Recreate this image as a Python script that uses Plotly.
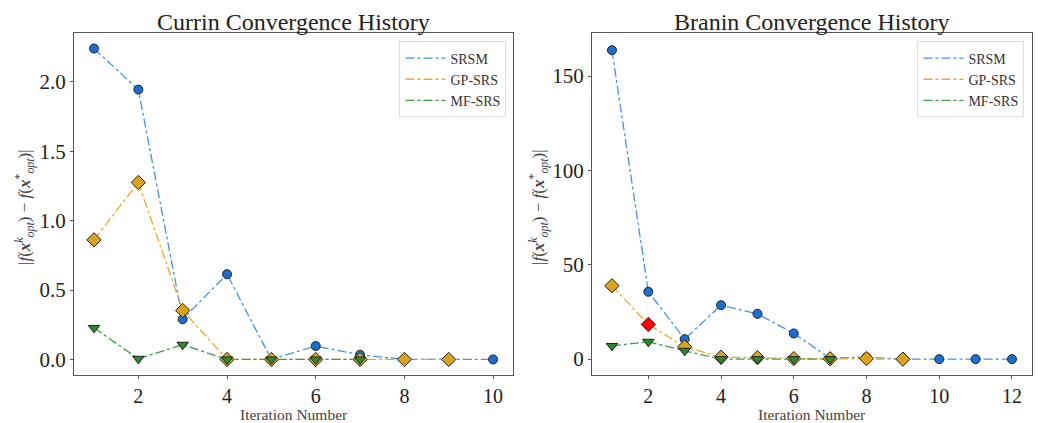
import plotly.graph_objects as go

# ---------------- data ----------------
currin_srsm_x = [1, 2, 3, 4, 5, 6, 7, 8, 9, 10]
currin_srsm_y = [2.24, 1.944, 0.29, 0.614, 0.0, 0.097, 0.034, 0.0, 0.0, 0.0]
currin_gp_x = [1, 2, 3, 4, 5, 6, 7, 8, 9]
currin_gp_y = [0.862, 1.275, 0.353, 0.0, 0.0, 0.0, 0.0, 0.0, 0.0]
currin_mf_x = [1, 2, 3, 4, 5, 6, 7]
currin_mf_y = [0.227, 0.005, 0.106, 0.0, 0.0, 0.0, 0.0]

branin_srsm_x = [1, 2, 3, 4, 5, 6, 7, 8, 9, 10, 11, 12]
branin_srsm_y = [163.7, 35.7, 10.6, 28.6, 24.0, 13.6, 0.5, 1.0, 0.0, 0.0, 0.0, 0.0]
branin_gp_x = [1, 2, 3, 4, 5, 6, 7, 8, 9]
branin_gp_y = [38.9, 18.4, 6.5, 1.0, 0.8, 0.3, 0.2, 0.3, 0.0]
branin_mf_x = [1, 2, 3, 4, 5, 6, 7]
branin_mf_y = [7.0, 9.2, 4.4, 0.0, 0.0, 0.0, 0.0]
branin_gp_highlight = 1  # index of red-highlighted point

series_names = ["SRSM", "GP-SRS", "MF-SRS"]
titles = ["Currin Convergence History", "Branin Convergence History"]
x_title = "Iteration Number"
y_title = ("|<i>f</i>(<b><i>x</i></b><sup><i>k</i></sup><sub><i>opt</i></sub>) "
           "\u2212 <i>f</i>(<b><i>x</i></b><sup>*</sup><sub><i>opt</i></sub>)|")

# ---------------- styles ----------------
FONT = "Liberation Serif"
C_BLUE, L_BLUE = "#1b6fce", "#4592e6"
C_GOLD, L_GOLD = "#d9a21f", "#e9ac2c"
C_GREEN, L_GREEN = "#2b8a2b", "#3f9e45"

D1 = [0.0712, 0.4933]
D2 = [0.5692, 0.9923]
DY = [0.1135, 0.922]

fig = go.Figure()


def add_series(xs, ys, name, mcol, lcol, symbol, size, xa, ya, legend, mcolors=None):
    fig.add_trace(go.Scatter(
        x=xs, y=ys, mode="lines+markers", name=name,
        line=dict(color=lcol, width=1.3, dash="dashdot"),
        marker=dict(symbol=symbol, size=size, color=mcolors if mcolors else mcol,
                    line=dict(color="#222222", width=1)),
        xaxis=xa, yaxis=ya, showlegend=False,
    ))
    # legend entry: line sample only (as in the reference)
    fig.add_trace(go.Scatter(
        x=[None], y=[None], mode="lines", name=name,
        line=dict(color=lcol, width=1.3, dash="dashdot"),
        xaxis=xa, yaxis=ya, legend=legend, showlegend=True, hoverinfo="skip",
    ))


add_series(currin_srsm_x, currin_srsm_y, series_names[0], C_BLUE, L_BLUE, "circle", 9, "x", "y", "legend")
add_series(currin_gp_x, currin_gp_y, series_names[1], C_GOLD, L_GOLD, "diamond", 11, "x", "y", "legend")
add_series(currin_mf_x, currin_mf_y, series_names[2], C_GREEN, L_GREEN, "triangle-down", 10, "x", "y", "legend")

gp_cols = [C_GOLD] * len(branin_gp_x)
gp_cols[branin_gp_highlight] = "#ff0000"
add_series(branin_srsm_x, branin_srsm_y, series_names[0], C_BLUE, L_BLUE, "circle", 9, "x2", "y2", "legend2")
add_series(branin_gp_x, branin_gp_y, series_names[1], C_GOLD, L_GOLD, "diamond", 11, "x2", "y2", "legend2", gp_cols)
add_series(branin_mf_x, branin_mf_y, series_names[2], C_GREEN, L_GREEN, "triangle-down", 10, "x2", "y2", "legend2")

axis_common = dict(
    showline=True, linecolor="#555555", linewidth=1.2, mirror=True,
    ticks="outside", ticklen=3, tickcolor="#555555", tickwidth=1,
    showgrid=False, zeroline=False, automargin=False,
    tickfont=dict(family=FONT, size=21, color="#222222"),
)
x_tickfont = dict(family=FONT, size=20, color="#222222")

LEG = dict(bgcolor="rgba(255,255,255,0.8)", bordercolor="#dddddd", borderwidth=1,
           font=dict(family=FONT, size=14, color="#333333"), tracegroupgap=0,
           itemwidth=40)

ann = []
for d, t in ((D1, titles[0]), (D2, titles[1])):
    cx = (d[0] + d[1]) / 2
    ann.append(dict(text=t, x=cx, y=1 - 22 / 423, xref="paper", yref="paper",
                    xanchor="center", yanchor="middle", showarrow=False,
                    font=dict(family=FONT, size=24, color="#222222")))
    ann.append(dict(text=x_title, x=cx, y=1 - 414 / 423, xref="paper", yref="paper",
                    xanchor="center", yanchor="middle", showarrow=False, borderpad=0,
                    font=dict(family=FONT, size=15.5, color="#444444")))
for xp in (25 / 1040, 539 / 1040):
    ann.append(dict(text=y_title, x=xp, y=1 - 207 / 423, xref="paper", yref="paper",
                    xanchor="center", yanchor="middle", showarrow=False, textangle=-90,
                    font=dict(family=FONT, size=17, color="#444444")))

fig.update_layout(
    width=1040, height=423,
    margin=dict(l=0, r=0, t=0, b=0, autoexpand=False),
    paper_bgcolor="white", plot_bgcolor="white",
    font=dict(family=FONT, color="#222222"),
    xaxis=dict(domain=D1, range=[0.55, 10.45], tickvals=[2, 4, 6, 8, 10],
               anchor="y", **{**axis_common, "tickfont": x_tickfont}),
    yaxis=dict(domain=DY, range=[-0.112, 2.352], tickvals=[0, 0.5, 1.0, 1.5, 2.0],
               ticktext=["0.0", "0.5", "1.0", "1.5", "2.0"], anchor="x", **axis_common),
    xaxis2=dict(domain=D2, range=[0.45, 12.55], tickvals=[2, 4, 6, 8, 10, 12],
                anchor="y2", **{**axis_common, "tickfont": x_tickfont}),
    yaxis2=dict(domain=DY, range=[-8.4, 172.8], tickvals=[0, 50, 100, 150],
                anchor="x2", **axis_common),
    legend=dict(x=0.487, y=0.902, xanchor="right", yanchor="top", **LEG),
    legend2=dict(x=0.985, y=0.902, xanchor="right", yanchor="top", **LEG),
    annotations=ann,
)

fig.write_html("out.html")
